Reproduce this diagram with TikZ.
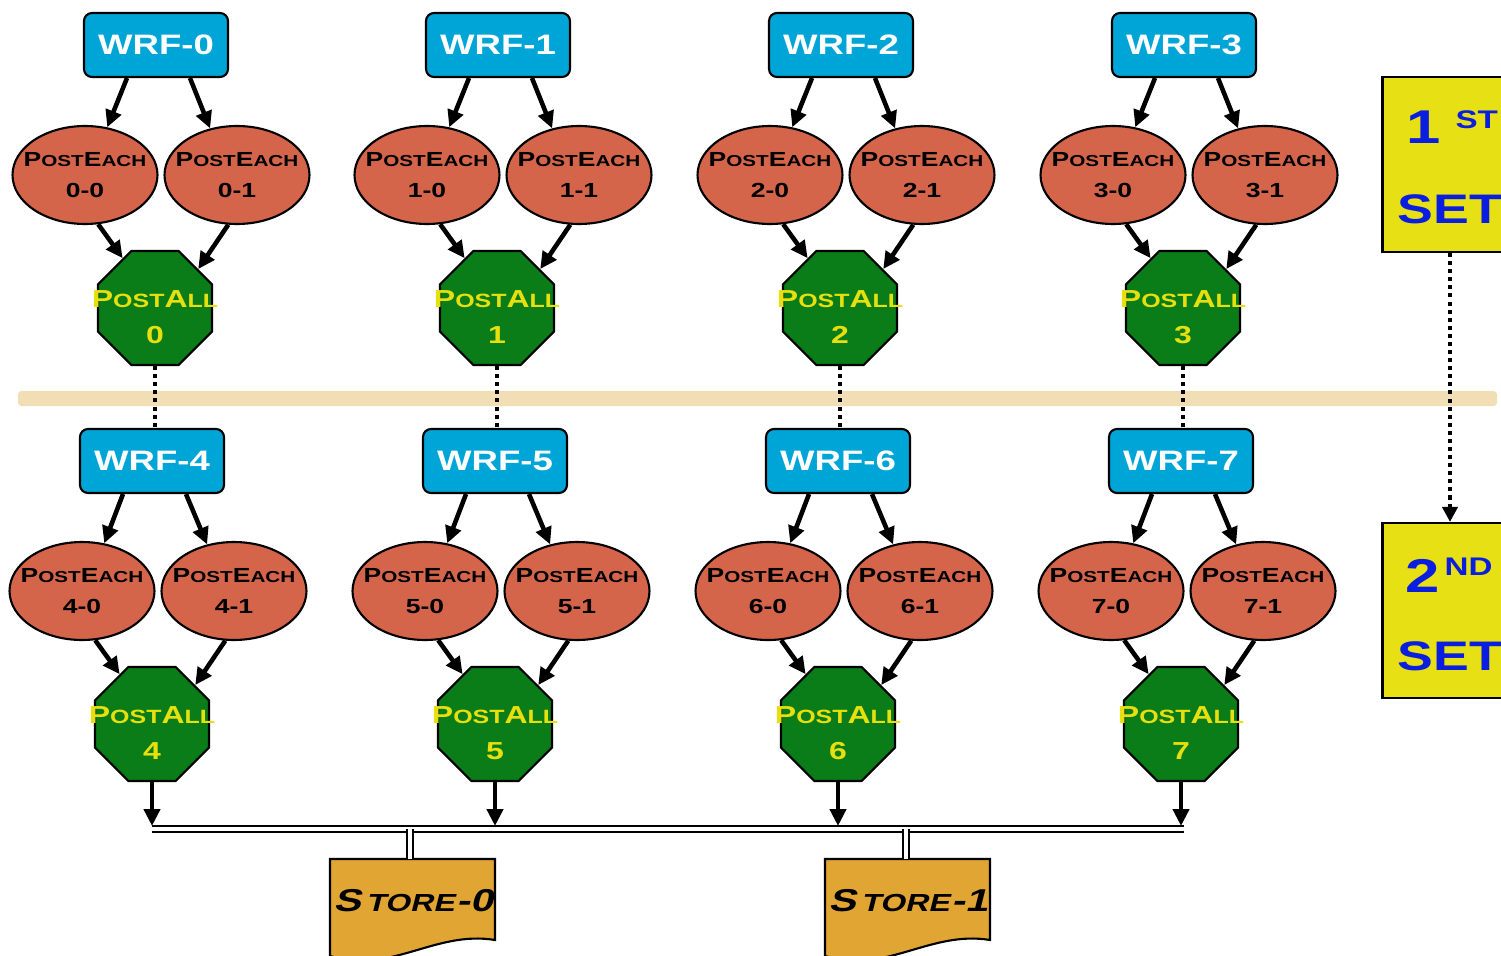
\documentclass[tikz,border=0pt]{standalone}
\usepackage{fontspec}
\setmainfont[FakeStretch=1.3]{Liberation Sans}
\newfontfamily\slfont[FakeStretch=1.3,FakeSlant=0.25]{Liberation Sans}
\usetikzlibrary{shapes.geometric,arrows.meta,calc}
\definecolor{wrfblue}{HTML}{00A5D8}
\definecolor{pecol}{HTML}{D4654A}
\definecolor{pagreen}{HTML}{0A7D19}
\definecolor{payel}{HTML}{E8E00E}
\definecolor{storecol}{HTML}{E0A533}
\definecolor{setyel}{HTML}{E6E014}
\definecolor{setblue}{HTML}{0A1EE0}
\definecolor{bandcol}{HTML}{F2DEB4}
\newcommand\lo[1]{\scalebox{0.78}{#1}}
\newcommand\zw[1]{\makebox[0pt]{#1}}
\begin{document}
\begin{tikzpicture}[x=0.02cm,y=-0.02cm,
  wrf/.style={draw=black, line width=1.2pt, fill=wrfblue, rounded corners=0.16cm,
    minimum width=2.88cm, minimum height=1.28cm, inner sep=0pt, text=white,
    font=\fontsize{16}{16}\selectfont\bfseries},
  pe/.style={ellipse, draw=black, line width=1.2pt, fill=pecol, minimum width=2.9cm,
    minimum height=1.96cm, inner sep=0pt, align=center,
    font=\fontsize{11.6}{18}\selectfont\bfseries},
  pa/.style={regular polygon, regular polygon sides=8, draw=black, line width=1.2pt,
    fill=pagreen, minimum size=2.47cm, inner sep=0pt},
  patext/.style={text=payel, align=center, inner sep=0pt,
    font=\fontsize{14}{20.4}\selectfont\bfseries},
  arr/.style={line width=2.6pt, -{Triangle[length=0.34cm,width=0.32cm]}},
  dotline/.style={line width=2.3pt, dash pattern=on 2.3pt off 2.3pt},
  setbox/.style={draw=black, line width=1.2pt, fill=setyel, minimum width=2.7cm,
    minimum height=3.5cm, inner sep=0pt},
  settext/.style={text=setblue, inner sep=0pt, font=\bfseries},
  bus/.style={double=white, double distance=1.8pt, line width=1.3pt, draw=black},
  storetext/.style={inner sep=0pt, font=\slfont\bfseries\fontsize{18}{18}\selectfont}
]
\useasboundingbox (0,0) rectangle (1501,956);
% separator band
\fill[bandcol, rounded corners=2pt] (18,391) rectangle (1497,406);
% first row
\foreach \i/\w in {0/156,1/498,2/841,3/1184} {
  \node[wrf] (wrf\i) at (\w,45) {WRF-\i};
  \node[pe] (pe\i0) at (\w-71,175) {\zw{P\lo{OST}E\lo{ACH}}\\\zw{\i-0}};
  \node[pe] (pe\i1) at (\w+81,175) {\zw{P\lo{OST}E\lo{ACH}}\\\zw{\i-1}};
  \node[pa] (pa\i) at (\w-1,308) {};
  \node[patext] (pat\i) at (\w-1,317) {\zw{P\lo{OST}A\lo{LL}}\\\zw{\i}};
  \draw[arr] ([xshift=-0.58cm]wrf\i.south) -- (pe\i0.65);
  \draw[arr] ([xshift=0.68cm]wrf\i.south) -- (pe\i1.120);
  \draw[arr] (pe\i0.-75) -- (pa\i.123);
  \draw[arr] (pe\i1.-100) -- (pa\i.42);
}
% second row
\foreach \i/\w in {4/152,5/495,6/838,7/1181} {
  \node[wrf] (wrf\i) at (\w,461) {WRF-\i};
  \node[pe] (pe\i0) at (\w-70,591) {\zw{P\lo{OST}E\lo{ACH}}\\\zw{\i-0}};
  \node[pe] (pe\i1) at (\w+82,591) {\zw{P\lo{OST}E\lo{ACH}}\\\zw{\i-1}};
  \node[pa] (pa\i) at (\w,724) {};
  \node[patext] (pat\i) at (\w,733) {\zw{P\lo{OST}A\lo{LL}}\\\zw{\i}};
  \draw[arr] ([xshift=-0.58cm]wrf\i.south) -- (pe\i0.65);
  \draw[arr] ([xshift=0.68cm]wrf\i.south) -- (pe\i1.120);
  \draw[arr] (pe\i0.-75) -- (pa\i.123);
  \draw[arr] (pe\i1.-100) -- (pa\i.42);
}
% dotted links between rows
\foreach \i/\j in {0/4,1/5,2/6,3/7} {
  \draw[dotline] (pa\i.south) -- (pa\i.south |- wrf\j.north);
}
% sets
\node[setbox] (set1) at (1450,164.5) {};
\node[setbox] (set2) at (1450,610.5) {};
\node[settext] (set1a) at (1452,127) {{\fontsize{27}{27}\selectfont 1}\hspace{0.3cm}\raisebox{8.5pt}{\fontsize{14.5}{14.5}\selectfont ST}};
\node[settext] (set1b) at (1450,209) {\fontsize{23.5}{23.5}\selectfont SET};
\node[settext] (set2a) at (1449,575) {{\fontsize{27}{27}\selectfont 2}\hspace{0.1cm}\raisebox{9.5pt}{\fontsize{14.5}{14.5}\selectfont ND}};
\node[settext] (set2b) at (1450,656) {\fontsize{23.5}{23.5}\selectfont SET};
\draw[dotline, -{Triangle[length=0.3cm,width=0.3cm]}] (set1.south) -- (set2.north);
% bus
\coordinate (busL) at (152,829);
\coordinate (busR) at (1184,829);
\draw[bus] (busL) -- (busR);
\foreach \i in {4,5,6,7} {
  \draw[arr] (pa\i.south) -- (pa\i.south |- 0,826);
}
% stores
\foreach \k/\xl/\xr/\xc in {0/330/495/410,1/825/990/906} {
  \draw[line width=1.2pt, fill=storecol] (\xl,859) -- (\xr,859) -- (\xr,940)
     .. controls (\xr-60,930) and (\xl+60,975) .. (\xl,956) -- cycle;
  \coordinate (st\k) at (\xc,859);
  \draw[bus] (\xc,829) -- (st\k);
  \node[storetext] (stt\k) at (\xl+83,901) {S\kern3pt\lo{TORE}\kern1pt-\k};
}
\end{tikzpicture}
\end{document}
